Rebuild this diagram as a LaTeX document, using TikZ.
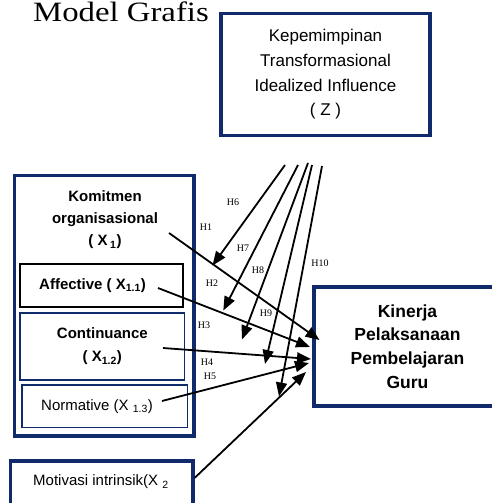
\documentclass[tikz,border=0pt]{standalone}
\usepackage{fontspec}
\setmainfont{Liberation Serif}
\setsansfont{Liberation Sans}
\usepackage[HTML]{xcolor}
\usetikzlibrary{positioning, arrows, arrows.meta}
\definecolor{navy}{HTML}{102A6B}

\begin{document}
\begin{tikzpicture}[x=1pt, y=-1pt,
  every node/.style={font=\sffamily, inner sep=0pt},
  navybox/.style={draw=navy, line width=3.5pt},
  thinbox/.style={draw=navy, line width=1.7pt},
  bigtext/.style={font=\sffamily\fontsize{15}{22}\selectfont},
  boldtext/.style={font=\sffamily\bfseries\fontsize{15}{22}\selectfont},
  hyp/.style={font=\rmfamily\fontsize{10}{12}\selectfont},
  arr/.style={-{Triangle[length=14pt, width=11pt]}, line width=1.8pt}]
\useasboundingbox (0,0) rectangle (492,503);
\clip (0,0) rectangle (492,503);

% Define the nodes
\node[anchor=base west, font=\rmfamily\fontsize{28}{32}\selectfont] (title) at (33,22)
  {\scalebox{1.17}[1]{Model Grafis}};
\node[navybox, minimum width=209, minimum height=121.8, align=center,
  font=\sffamily\fontsize{17}{24.7}\selectfont] (z) at (325.5,74.4)
  {Kepemimpinan\\Transformasional\\Idealized Influence\\( Z )};
\node[navybox, minimum width=179.3, minimum height=260.3] (x1) at (104.35,305.85) {};
\node[boldtext, align=center] (x1text) at (105,220)
  {Komitmen\\organisasional\\( X\,\textsubscript{1})};
\node[draw=black, line width=2pt, minimum width=163.3, minimum height=42.4] (aff) at (101.65,285.5) {};
\node[boldtext, anchor=west] (afftext) at (39,285.5) {Affective ( X\textsubscript{1.1})};
\node[thinbox, line width=1.5pt, minimum width=164.7, minimum height=67, align=center,
  font=\sffamily\bfseries\fontsize{15}{23}\selectfont] (cont) at (102.35,346.5)
  {Continuance\\( X\textsubscript{1.2})};
\node[thinbox, minimum width=165.8, minimum height=42.3] (norm) at (104.6,406.35) {};
\node[bigtext, anchor=west] (normtext) at (41,406.35) {Normative (X \textsubscript{1.3})};
\node[navybox, minimum width=182.7, minimum height=50] (motiv) at (101.65,485.8) {};
\node[bigtext, anchor=west] (motivtext) at (33,482) {Motivasi intrinsik(X \textsubscript{2}};
\node[navybox, minimum width=187, minimum height=119, align=center,
  font=\sffamily\bfseries\fontsize{17.5}{23.7}\selectfont] (kinerja) at (407.5,346.5)
  {Kinerja\\Pelaksanaan\\Pembelajaran\\Guru};

% Arrow ends
\coordinate (z6) at (285,165);
\coordinate (z7) at (298,165);
\coordinate (z8) at (308,163);
\coordinate (z9) at (312,165);
\coordinate (z10) at (322,166);
\coordinate (t6) at (212.5,265.5);
\coordinate (t7) at (223.3,310.5);
\coordinate (t8) at (242,339.5);
\coordinate (t9) at (265,364);
\coordinate (t10) at (279,396.5);
\coordinate (s1) at (169,233);
\coordinate (e1) at (319.5,340);
\coordinate (s2) at (158,288);
\coordinate (e2) at (310,347);
\coordinate (s3) at (163,348);
\coordinate (e3) at (311,359);
\coordinate (s4) at (162,401);
\coordinate (e4) at (309,363);
\coordinate (e5) at (306,372);

% Hypothesis labels
\node[hyp] (h1) at (206,227) {H1};
\node[hyp] (h2) at (212,283) {H2};
\node[hyp] (h3) at (204,325) {H3};
\node[hyp] (h4) at (207,362) {H4};
\node[hyp] (h5) at (210,376) {H5};
\node[hyp] (h6) at (233,202) {H6};
\node[hyp] (h7) at (243,248) {H7};
\node[hyp] (h8) at (258,270) {H8};
\node[hyp] (h9) at (266,313) {H9};
\node[hyp] (h10) at (320,263) {H10};

% Draw the paths
\draw[arr] (z6) -- (t6);
\draw[arr] (z7) -- (t7);
\draw[arr] (z8) -- (t8);
\draw[arr] (z9) -- (t9);
\draw[arr] (z10) -- (t10);
\draw[arr] (s1) -- (e1);
\draw[arr] (s2) -- (e2);
\draw[arr] (s3) -- (e3);
\draw[arr] (s4) -- (e4);
\draw[arr] ([yshift=8pt]motiv.east) -- (e5);
\end{tikzpicture}
\end{document}
